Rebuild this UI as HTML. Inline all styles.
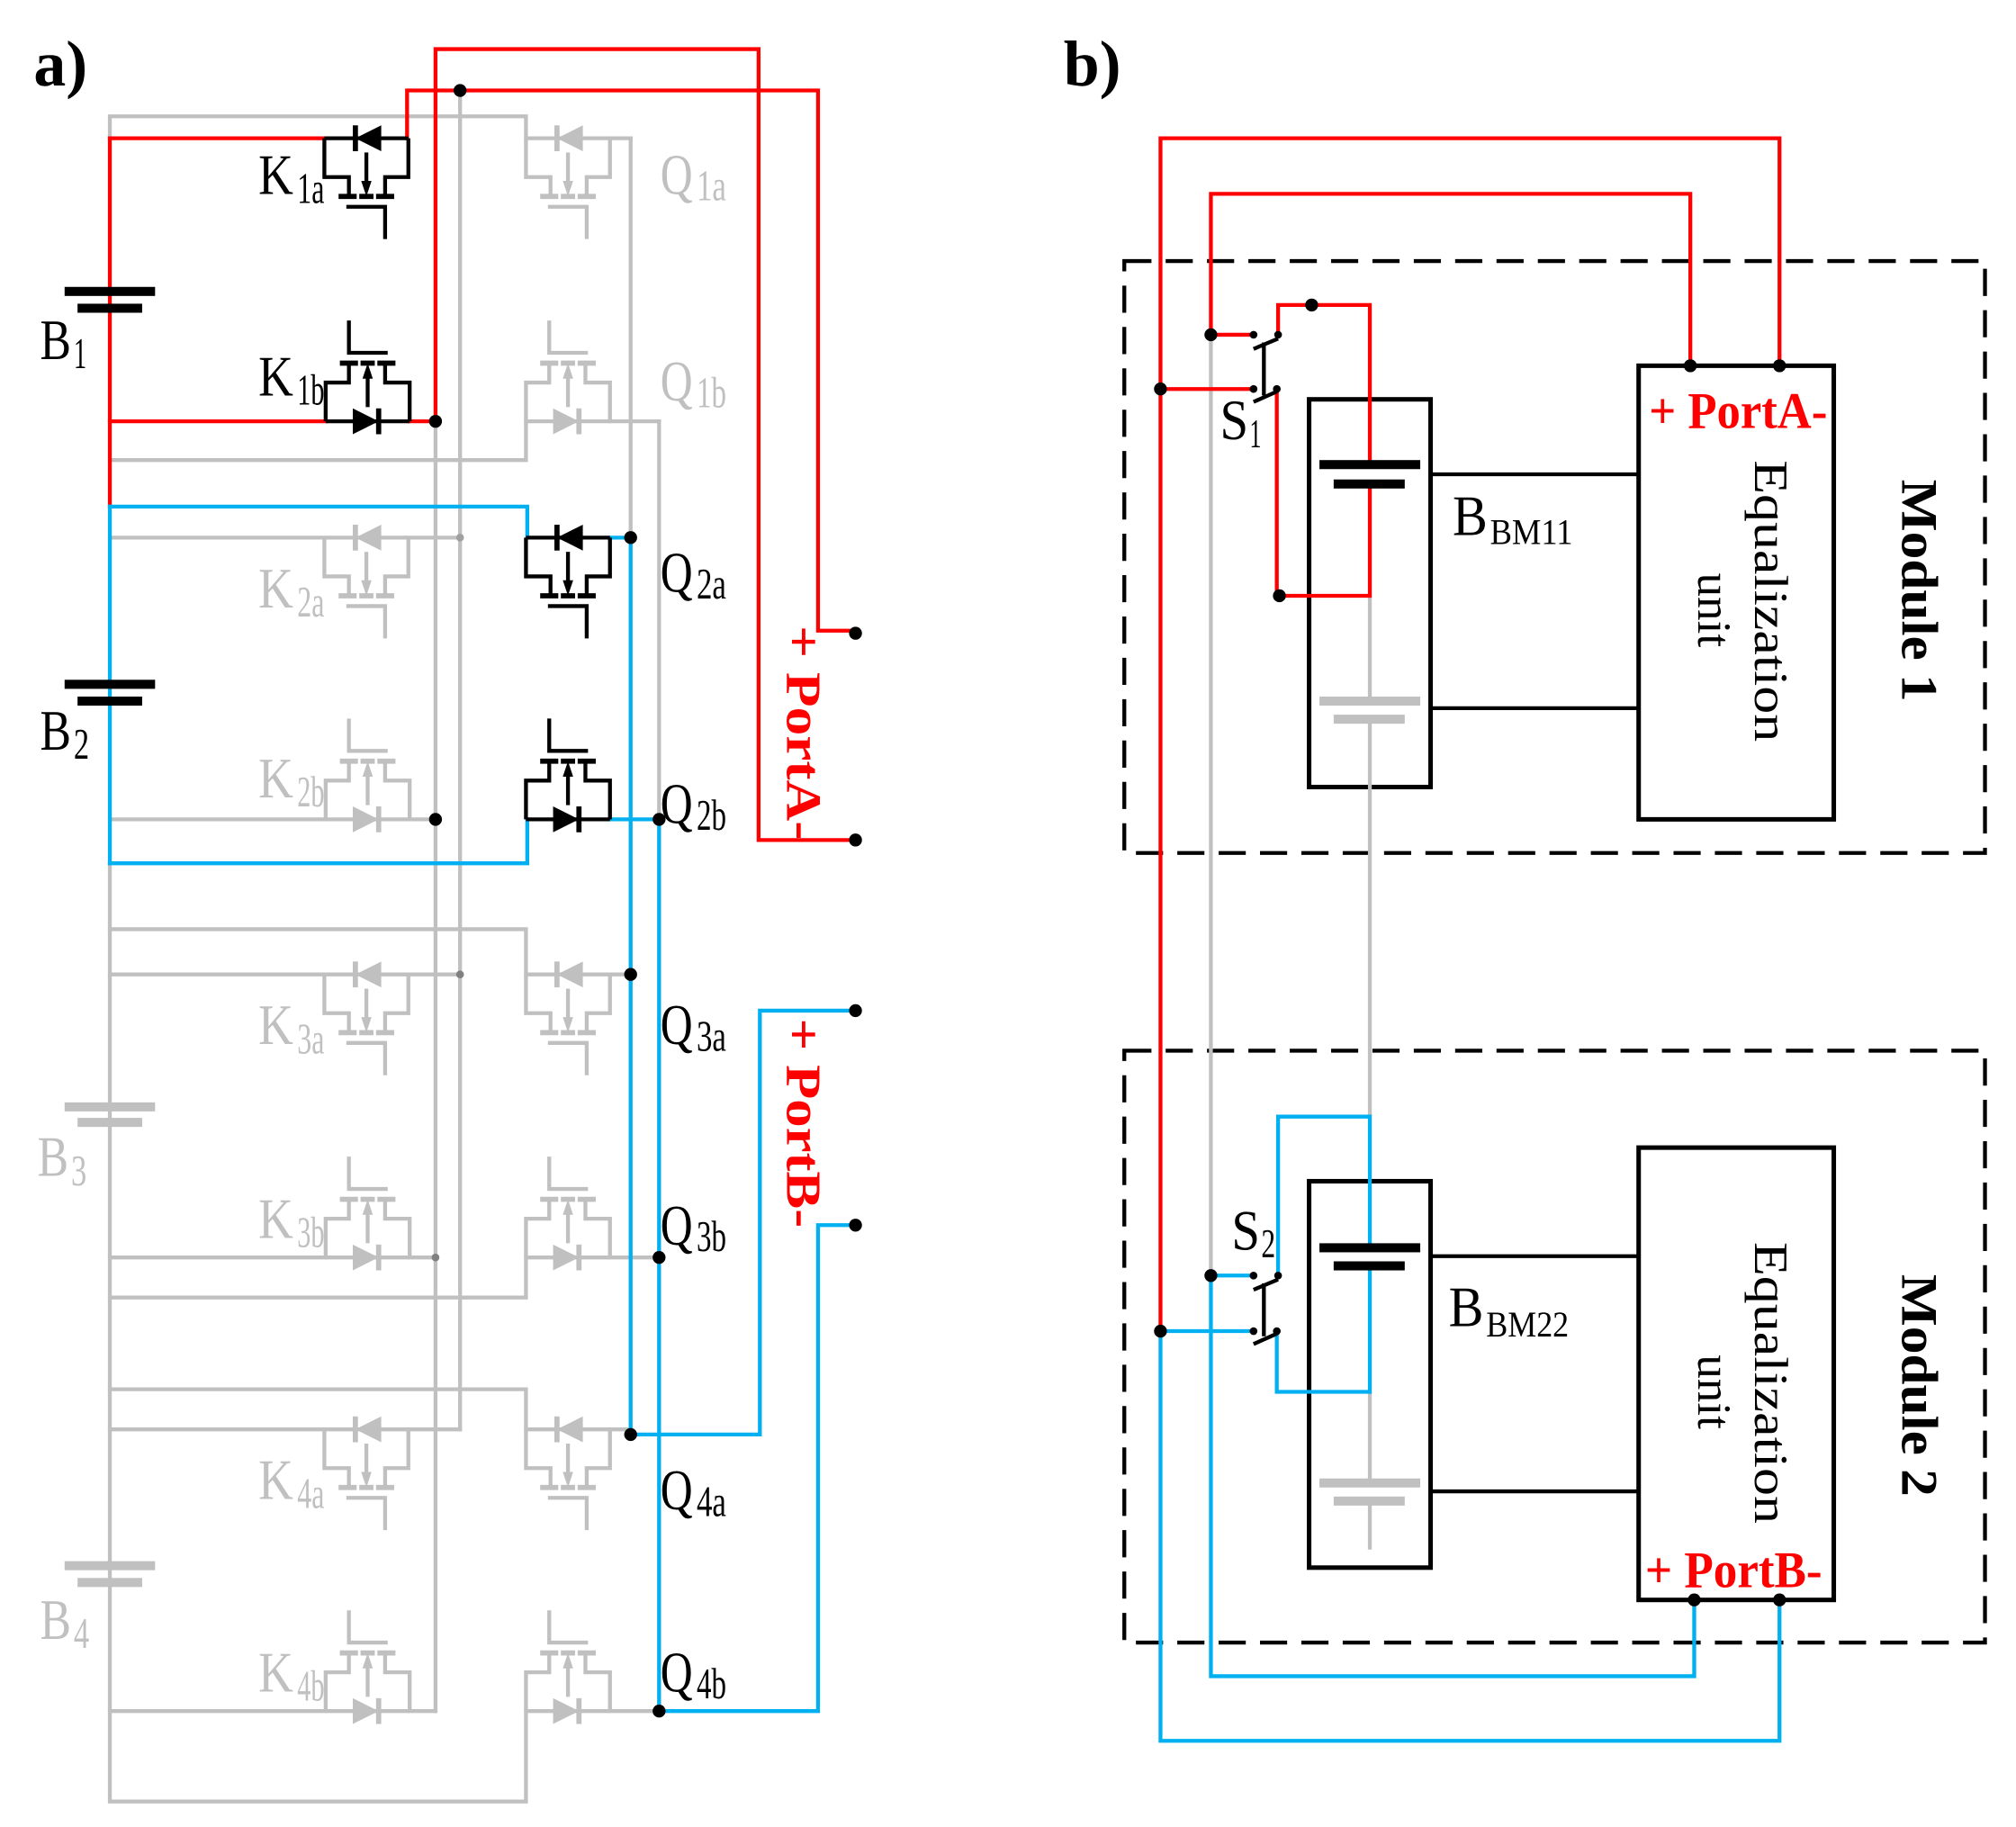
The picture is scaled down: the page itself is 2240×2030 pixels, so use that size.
<!DOCTYPE html>
<html><head><meta charset="utf-8"><style>
html,body{margin:0;padding:0;background:#fff;}
svg{display:block;}
text{font-family:"Liberation Serif",serif;}
</style></head><body>
<svg width="2240" height="2030" viewBox="0 0 1560 1413.7" preserveAspectRatio="none" xmlns="http://www.w3.org/2000/svg">
<defs>
<g id="ma" fill="none" stroke="currentColor">
  <path d="M0,0H65M0,0V30H19V45M65,0V30H47V45" stroke-width="3"/>
  <path d="M11,45H25M27,45H38M40,45H54" stroke-width="4"/>
  <path d="M17,53H47V78" stroke-width="3"/>
  <path d="M32.5,11V36" stroke-width="3"/>
  <polygon points="28.5,33 36.5,33 32.5,45" fill="currentColor" stroke="none"/>
  <path d="M24,-10V10" stroke-width="4"/>
  <polygon points="24,0 44,-10 44,10" fill="currentColor" stroke="none"/>
</g>
</defs>

<!-- ============ PART A ============ -->
<text x="26" y="66" font-size="50" font-weight="bold">a)</text>

<g fill="none" stroke-width="3" stroke-linecap="square">
<g stroke="#c0c0c0">
  <path d="M85,107V90H407V107"/>
  <path d="M85,356H407V326"/>
  <path d="M85,668V1394H407V1324"/>
  <path d="M85,719H407V754"/>
  <path d="M85,1004H407V973"/>
  <path d="M85,1075H407V1106"/>
  <path d="M85,416H250M315,416H356"/>
  <path d="M85,634H252M317,634H337"/>
  <path d="M85,754H250M315,754H356"/>
  <path d="M85,973H252M317,973H337"/>
  <path d="M85,1106H250M315,1106H356"/>
  <path d="M85,1324H252M317,1324H337"/>
  <path d="M337,326V1324"/>
  <path d="M356,70V1106"/>
  <path d="M488,107V416"/>
  <path d="M510,326V634"/>
  <path d="M472,107H488M472,326H510"/>
  <path d="M472,754H488M472,973H510M472,1106H488M472,1324H510"/>
</g>
<g stroke="#ff0000">
  <path d="M85,107V392"/>
  <path d="M85,107H250"/>
  <path d="M85,326H252"/>
  <path d="M317,326H337V38H587V650H662"/>
  <path d="M315,107V70H633V488H662"/>
</g>
<g stroke="#00b0f0">
  <path d="M85,392V668"/>
  <path d="M85,392H408V416"/>
  <path d="M85,668H408V634"/>
  <path d="M472,416H488V1110H588V782H662"/>
  <path d="M472,634H510V1324H633V948H662"/>
</g>
</g>

<g fill="#000">
  <rect x="50" y="222" width="70" height="7"/><rect x="60" y="235" width="50" height="7"/>
  <rect x="50" y="526" width="70" height="7"/><rect x="60" y="539" width="50" height="7"/>
</g>
<g fill="#c0c0c0">
  <rect x="50" y="853" width="70" height="7"/><rect x="60" y="865" width="50" height="7"/>
  <rect x="50" y="1208" width="70" height="7"/><rect x="60" y="1221" width="50" height="7"/>
</g>

<use href="#ma" transform="translate(251,107)" color="#000"/>
<use href="#ma" transform="translate(317,326) rotate(180)" color="#000"/>
<use href="#ma" transform="translate(407,107)" color="#c0c0c0"/>
<use href="#ma" transform="translate(472,326) rotate(180)" color="#c0c0c0"/>

<use href="#ma" transform="translate(251,416)" color="#c0c0c0"/>
<use href="#ma" transform="translate(317,634) rotate(180)" color="#c0c0c0"/>
<use href="#ma" transform="translate(407,416)" color="#000"/>
<use href="#ma" transform="translate(472,634) rotate(180)" color="#000"/>

<use href="#ma" transform="translate(251,754)" color="#c0c0c0"/>
<use href="#ma" transform="translate(317,973) rotate(180)" color="#c0c0c0"/>
<use href="#ma" transform="translate(407,754)" color="#c0c0c0"/>
<use href="#ma" transform="translate(472,973) rotate(180)" color="#c0c0c0"/>

<use href="#ma" transform="translate(251,1106)" color="#c0c0c0"/>
<use href="#ma" transform="translate(317,1324) rotate(180)" color="#c0c0c0"/>
<use href="#ma" transform="translate(407,1106)" color="#c0c0c0"/>
<use href="#ma" transform="translate(472,1324) rotate(180)" color="#c0c0c0"/>

<g fill="#000">
  <circle cx="356" cy="70" r="5"/><circle cx="337" cy="326" r="5"/>
  <circle cx="662" cy="490" r="5"/><circle cx="662" cy="650" r="5"/>
  <circle cx="488" cy="416" r="5"/><circle cx="510" cy="634" r="5"/>
  <circle cx="337" cy="634" r="5"/>
  <circle cx="488" cy="754" r="5"/><circle cx="510" cy="973" r="5"/>
  <circle cx="488" cy="1110" r="5"/><circle cx="510" cy="1324" r="5"/>
  <circle cx="662" cy="782" r="5"/><circle cx="662" cy="948" r="5"/>
  <circle cx="356" cy="416" r="3" fill="#a0a0a0"/><circle cx="356" cy="754" r="3" fill="#808080"/><circle cx="337" cy="973" r="3" fill="#808080"/>
</g>

<g font-size="44">
  <g fill="#000">
    <text x="31" y="278" textLength="24" lengthAdjust="spacingAndGlyphs">B</text><text x="57" y="285" font-size="34" textLength="10" lengthAdjust="spacingAndGlyphs">1</text>
    <text x="31" y="580" textLength="24" lengthAdjust="spacingAndGlyphs">B</text><text x="57" y="587" font-size="34" textLength="12" lengthAdjust="spacingAndGlyphs">2</text>
    <text x="200" y="150" textLength="27" lengthAdjust="spacingAndGlyphs">K</text><text x="230" y="157" font-size="34" textLength="21" lengthAdjust="spacingAndGlyphs">1a</text>
    <text x="200" y="306" textLength="27" lengthAdjust="spacingAndGlyphs">K</text><text x="230" y="313" font-size="34" textLength="21" lengthAdjust="spacingAndGlyphs">1b</text>
    <text x="511" y="458" textLength="25" lengthAdjust="spacingAndGlyphs">Q</text><text x="539" y="463" font-size="34" textLength="23" lengthAdjust="spacingAndGlyphs">2a</text>
    <text x="511" y="637" textLength="25" lengthAdjust="spacingAndGlyphs">Q</text><text x="539" y="642" font-size="34" textLength="23" lengthAdjust="spacingAndGlyphs">2b</text>
    <text x="511" y="808" textLength="25" lengthAdjust="spacingAndGlyphs">Q</text><text x="539" y="813" font-size="34" textLength="23" lengthAdjust="spacingAndGlyphs">3a</text>
    <text x="511" y="963" textLength="25" lengthAdjust="spacingAndGlyphs">Q</text><text x="539" y="968" font-size="34" textLength="23" lengthAdjust="spacingAndGlyphs">3b</text>
    <text x="511" y="1168" textLength="25" lengthAdjust="spacingAndGlyphs">Q</text><text x="539" y="1173" font-size="34" textLength="23" lengthAdjust="spacingAndGlyphs">4a</text>
    <text x="511" y="1309" textLength="25" lengthAdjust="spacingAndGlyphs">Q</text><text x="539" y="1314" font-size="34" textLength="23" lengthAdjust="spacingAndGlyphs">4b</text>
  </g>
  <g fill="#c0c0c0">
    <text x="29" y="910" textLength="24" lengthAdjust="spacingAndGlyphs">B</text><text x="55" y="917" font-size="34" textLength="12" lengthAdjust="spacingAndGlyphs">3</text>
    <text x="31" y="1268" textLength="24" lengthAdjust="spacingAndGlyphs">B</text><text x="57" y="1275" font-size="34" textLength="12" lengthAdjust="spacingAndGlyphs">4</text>
    <text x="200" y="470" textLength="27" lengthAdjust="spacingAndGlyphs">K</text><text x="230" y="477" font-size="34" textLength="21" lengthAdjust="spacingAndGlyphs">2a</text>
    <text x="200" y="617" textLength="27" lengthAdjust="spacingAndGlyphs">K</text><text x="230" y="624" font-size="34" textLength="21" lengthAdjust="spacingAndGlyphs">2b</text>
    <text x="200" y="808" textLength="27" lengthAdjust="spacingAndGlyphs">K</text><text x="230" y="815" font-size="34" textLength="21" lengthAdjust="spacingAndGlyphs">3a</text>
    <text x="200" y="958" textLength="27" lengthAdjust="spacingAndGlyphs">K</text><text x="230" y="965" font-size="34" textLength="21" lengthAdjust="spacingAndGlyphs">3b</text>
    <text x="200" y="1160" textLength="27" lengthAdjust="spacingAndGlyphs">K</text><text x="230" y="1167" font-size="34" textLength="21" lengthAdjust="spacingAndGlyphs">4a</text>
    <text x="200" y="1309" textLength="27" lengthAdjust="spacingAndGlyphs">K</text><text x="230" y="1316" font-size="34" textLength="21" lengthAdjust="spacingAndGlyphs">4b</text>
    <text x="511" y="150" textLength="25" lengthAdjust="spacingAndGlyphs">Q</text><text x="539" y="155" font-size="34" textLength="23" lengthAdjust="spacingAndGlyphs">1a</text>
    <text x="511" y="310" textLength="25" lengthAdjust="spacingAndGlyphs">Q</text><text x="539" y="315" font-size="34" textLength="23" lengthAdjust="spacingAndGlyphs">1b</text>
  </g>
</g>
<text transform="translate(609,484) rotate(90)" x="0" y="0" font-size="38" font-weight="bold" fill="#ff0000" textLength="166" lengthAdjust="spacingAndGlyphs">+ PortA-</text>
<text transform="translate(609,788) rotate(90)" x="0" y="0" font-size="38" font-weight="bold" fill="#ff0000" textLength="162" lengthAdjust="spacingAndGlyphs">+ PortB-</text>

<!-- ============ PART B ============ -->
<text x="823" y="66" font-size="50" font-weight="bold">b)</text>

<g fill="none" stroke="#000" stroke-width="3" stroke-dasharray="21,11">
  <rect x="870" y="202" width="666" height="458"/>
  <rect x="870" y="813" width="666" height="458"/>
</g>
<g fill="none" stroke="#000" stroke-width="3.5">
  <rect x="1013" y="309" width="94" height="300"/>
  <rect x="1268" y="283" width="151" height="351"/>
  <rect x="1013" y="914" width="94" height="299"/>
  <rect x="1268" y="888" width="151" height="350"/>
  <path d="M1107,367H1268M1107,548H1268M1107,972H1268M1107,1154H1268" stroke-width="3"/>
</g>

<g fill="none" stroke-width="3">
  <g stroke="#c0c0c0">
    <path d="M937,259V987"/>
    <path d="M1060,461V542M1060,556V864"/>
    <path d="M1060,1077V1147M1060,1162V1199"/>
  </g>
  <g stroke="#ff0000">
    <path d="M898,1030V107H1377V283"/>
    <path d="M937,259V150H1308V283"/>
    <path d="M937,259H970M898,301H970"/>
    <path d="M989,259V236H1060V360"/>
    <path d="M988,301V461H1060V375"/>
  </g>
  <g stroke="#00b0f0">
    <path d="M898,1030V1347H1377V1238"/>
    <path d="M937,987V1297H1311V1238"/>
    <path d="M937,987H970M898,1030H970"/>
    <path d="M989,987V864H1060V965"/>
    <path d="M988,1030V1077H1060V979"/>
  </g>
  <g stroke="#000" stroke-width="3">
    <path d="M970,270L989,262M970,311L988,303M978,265V306"/>
    <path d="M970,998L989,990M970,1040L988,1032M978,993V1034"/>
  </g>
</g>
<rect x="1021" y="356" width="78" height="7" fill="#000"/>
<rect x="1032" y="371" width="55" height="7" fill="#000"/>
<rect x="1021" y="539" width="78" height="7" fill="#c0c0c0"/>
<rect x="1032" y="553" width="55" height="7" fill="#c0c0c0"/>
<rect x="1021" y="962" width="78" height="7" fill="#000"/>
<rect x="1032" y="976" width="55" height="7" fill="#000"/>
<rect x="1021" y="1144" width="78" height="7" fill="#c0c0c0"/>
<rect x="1032" y="1158" width="55" height="7" fill="#c0c0c0"/>

<g fill="#000">
  <circle cx="937" cy="259" r="5"/><circle cx="898" cy="301" r="5"/>
  <circle cx="1015" cy="236" r="5"/><circle cx="990" cy="461" r="5"/>
  <circle cx="1308" cy="283" r="5"/><circle cx="1377" cy="283" r="5"/>
  <circle cx="937" cy="987" r="5"/><circle cx="898" cy="1030" r="5"/>
  <circle cx="1311" cy="1238" r="5"/><circle cx="1377" cy="1238" r="5"/>
  <circle cx="970" cy="259" r="3"/><circle cx="989" cy="259" r="3"/>
  <circle cx="970" cy="301" r="3"/><circle cx="988" cy="301" r="3"/>
  <circle cx="970" cy="987" r="3"/><circle cx="989" cy="987" r="3"/>
  <circle cx="970" cy="1030" r="3"/><circle cx="988" cy="1030" r="3"/>
</g>

<g font-size="44" fill="#000">
  <text x="944" y="340" textLength="22" lengthAdjust="spacingAndGlyphs">S</text><text x="967" y="346" font-size="32" textLength="9" lengthAdjust="spacingAndGlyphs">1</text>
  <text x="953" y="967" textLength="22" lengthAdjust="spacingAndGlyphs">S</text><text x="976" y="973" font-size="32" textLength="11" lengthAdjust="spacingAndGlyphs">2</text>
  <text x="1124" y="414" textLength="27" lengthAdjust="spacingAndGlyphs">B</text><text x="1153" y="421" font-size="28" textLength="64" lengthAdjust="spacingAndGlyphs">BM11</text>
  <text x="1121" y="1026" textLength="27" lengthAdjust="spacingAndGlyphs">B</text><text x="1150" y="1034" font-size="28" textLength="64" lengthAdjust="spacingAndGlyphs">BM22</text>
</g>
<text x="1276" y="331" font-size="40" font-weight="bold" fill="#ff0000" textLength="138" lengthAdjust="spacingAndGlyphs">+ PortA-</text>
<text x="1273" y="1228" font-size="40" font-weight="bold" fill="#ff0000" textLength="137" lengthAdjust="spacingAndGlyphs">+ PortB-</text>

<g font-size="37" fill="#000" text-anchor="middle">
  <text transform="translate(1358,465) rotate(90)" textLength="218" lengthAdjust="spacingAndGlyphs">Equalization</text>
  <text transform="translate(1314,472) rotate(90)">unit</text>
  <text transform="translate(1358,1070) rotate(90)" textLength="218" lengthAdjust="spacingAndGlyphs">Equalization</text>
  <text transform="translate(1314,1077) rotate(90)">unit</text>
  <text transform="translate(1472,457) rotate(90)" font-weight="bold" font-size="40" textLength="172" lengthAdjust="spacingAndGlyphs">Module 1</text>
  <text transform="translate(1472,1072) rotate(90)" font-weight="bold" font-size="40" textLength="172" lengthAdjust="spacingAndGlyphs">Module 2</text>
</g>
</svg>
</body></html>
